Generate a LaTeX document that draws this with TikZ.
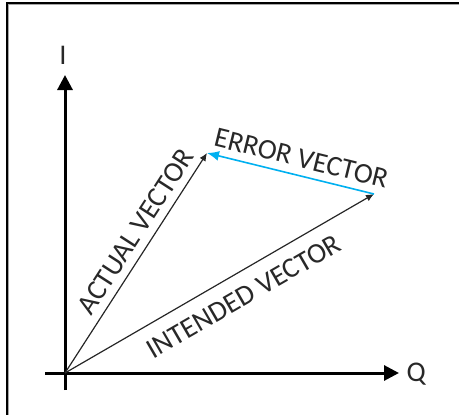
\documentclass[tikz,border=0pt]{standalone}
\usepackage{fontspec}
\setmainfont{Carlito}
\usepackage{xcolor}
\usetikzlibrary{arrows.meta}
\definecolor{errblue}{RGB}{0, 176, 240}
\definecolor{txt}{RGB}{40, 40, 40}

\begin{document}
\begin{tikzpicture}[x=1pt, y=-1pt,
    axis/.style={line width=3pt, draw=black, -{Triangle[length=15pt, width=15pt]}},
    vec/.style={line width=1.2pt, draw=black!85, -{Latex[length=8pt, width=7pt]}},
    errvec/.style={line width=1.6pt, draw=errblue, -{Latex[length=12pt, width=10pt]}},
    lbl/.style={font=\fontsize{28.5}{32}\selectfont, text=txt}
]
\useasboundingbox (0,0) rectangle (459,415);

% frame
\draw[line width=1.6pt] (7,415) -- (7,3) -- (459,3);
\draw[line width=1pt, draw=black!35] (8.9,415) -- (8.9,4.9) -- (459,4.9);

\coordinate (O) at (65,373);
\coordinate (ibot) at (65,390);
\coordinate (itop) at (65,75);
\coordinate (qleft) at (45,373);
\coordinate (qright) at (399,373);
\coordinate (act) at (207,153);
\coordinate (int) at (374,194);

\draw[axis] (ibot) -- (itop);
\draw[axis] (qleft) -- (qright);
\node[lbl] (ilabel) at (63,55) {I};
\node[lbl, anchor=west] (qlabel) at (403,374) {Q};

\draw[vec] (O) -- node[lbl, sloped, above=4pt, pos=0.6] (actlabel) {ACTUAL VECTOR} (act);
\draw[vec] (O) -- node[lbl, sloped, below=10pt, pos=0.54] (intlabel) {INTENDED VECTOR} (int);
\draw[errvec] (int) -- node[lbl, sloped, above=4pt, pos=0.46] (errlabel) {ERROR VECTOR} (act);

\end{tikzpicture}
\end{document}
